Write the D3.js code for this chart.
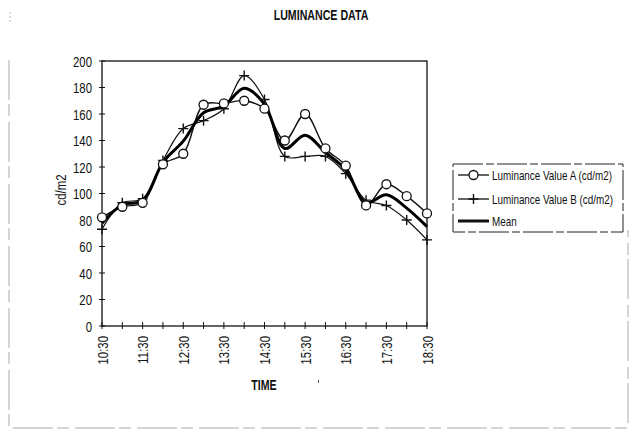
<!DOCTYPE html>
<html>
<head>
<meta charset="utf-8">
<script src="https://cdn.jsdelivr.net/npm/d3@7"></script>
<style>
  body { margin: 0; background: #fff; }
  text { font-family: "Liberation Sans", Arial, sans-serif; fill: #111; }
</style>
</head>
<body>
<div id="chart"></div>
<script>
// half-hourly readings 10:30 .. 18:30
var times = ["10:30","11:00","11:30","12:00","12:30","13:00","13:30","14:00","14:30",
             "15:00","15:30","16:00","16:30","17:00","17:30","18:00","18:30"];
var valueA = [82, 90, 93, 122, 130, 167, 168, 170, 164, 140, 160, 134, 121, 91, 107, 98, 85];
var valueB = [73, 93, 96, 125, 149, 155, 164, 189, 171, 128, 128, 128, 115, 95, 91, 80, 65];
var meanVal = [77.5, 91.5, 94.5, 123.5, 139.5, 161, 166, 179.5, 167.5, 134, 144, 131, 118, 93, 99, 89, 75];
var yTicks = [0, 20, 40, 60, 80, 100, 120, 140, 160, 180, 200];
var xLabels = ["10:30","11:30","12:30","13:30","14:30","15:30","16:30","17:30","18:30"];

var W = 633, H = 440;
var svg = d3.select("#chart").append("svg").attr("width", W).attr("height", H);
var SQ = 0.76; // horizontal squeeze for a condensed look

function label(g, tx, ty, rot, str, size, anchor, bold) {
  var t = g.append("text")
    .attr("transform", "translate(" + tx + "," + ty + ")" + (rot ? " rotate(" + rot + ")" : "") + " scale(" + SQ + ",1)")
    .attr("text-anchor", anchor || "start")
    .style("font-size", size + "px")
    .text(str);
  if (bold) t.style("font-weight", "bold");
  return t;
}

// faint outer chart frame (scanned look)
svg.append("path")
  .attr("d", "M9,60 V428 H628 V230")
  .attr("fill", "none").attr("stroke", "#aaa").attr("stroke-width", 1)
  .attr("stroke-dasharray", "40,4,12,6");
svg.append("line").attr("x1", 10).attr("x2", 10).attr("y1", 12).attr("y2", 24)
  .attr("stroke", "#bbb").attr("stroke-dasharray", "2,2");

var pL = 102, pR = 427, pT = 61, pB = 326;
var x = d3.scalePoint().domain(times).range([pL, pR]);
var y = d3.scaleLinear().domain([0, 200]).range([pB, pT]);

// title
label(svg, 321, 20, 0, "LUMINANCE DATA", 14, "middle", true);

// plot border
svg.append("rect").attr("x", pL).attr("y", pT).attr("width", pR - pL).attr("height", pB - pT)
  .attr("fill", "none").attr("stroke", "#111").attr("stroke-width", 1.3);

// y axis ticks + labels
var gy = svg.append("g");
gy.selectAll("line").data(yTicks).enter().append("line")
  .attr("x1", pL - 3).attr("x2", pL + 3)
  .attr("y1", function(d){ return y(d); }).attr("y2", function(d){ return y(d); })
  .attr("stroke", "#111").attr("stroke-width", 1);
yTicks.forEach(function(d){ label(gy, 92, y(d) + 5.5, 0, d, 15, "end"); });

// x axis ticks + labels
svg.append("g").selectAll("line").data(times).enter().append("line")
  .attr("x1", function(d){ return x(d); }).attr("x2", function(d){ return x(d); })
  .attr("y1", pB - 4).attr("y2", pB + 3)
  .attr("stroke", "#111").attr("stroke-width", 1);
var gx = svg.append("g");
xLabels.forEach(function(d){ label(gx, x(d) + 5.5, 336, -90, d, 15, "end"); });

// axis titles
label(svg, 264, 390, 0, "TIME", 14, "middle", true);
label(svg, 66, 190, -90, "cd/m2", 15, "middle");

// lines
var line = d3.line()
  .x(function(d, i){ return x(times[i]); })
  .y(function(d){ return y(d); })
  .curve(d3.curveCatmullRom.alpha(0.5));

svg.append("path").datum(valueB).attr("d", line)
  .attr("fill", "none").attr("stroke", "#111").attr("stroke-width", 1.2);
svg.append("path").datum(valueA).attr("d", line)
  .attr("fill", "none").attr("stroke", "#111").attr("stroke-width", 1.4);
svg.append("path").datum(meanVal).attr("d", line)
  .attr("fill", "none").attr("stroke", "#000").attr("stroke-width", 3);

// markers
function plus(g, cx, cy) {
  g.append("path").attr("d", "M" + (cx - 5) + "," + cy + "H" + (cx + 5) + "M" + cx + "," + (cy - 5) + "V" + (cy + 5))
    .attr("stroke", "#111").attr("stroke-width", 1.4).attr("fill", "none");
}
var gm = svg.append("g");
valueB.forEach(function(d, i){ plus(gm, x(times[i]), y(d)); });
gm.selectAll("circle").data(valueA).enter().append("circle")
  .attr("cx", function(d, i){ return x(times[i]); })
  .attr("cy", function(d){ return y(d); })
  .attr("r", 4.5).attr("fill", "#fff").attr("stroke", "#111").attr("stroke-width", 1.3);

// legend
var lg = svg.append("g");
lg.append("rect").attr("x", 453).attr("y", 164).attr("width", 170).attr("height", 68)
  .attr("fill", "#fff").attr("stroke", "#222").attr("stroke-width", 1).attr("stroke-dasharray", "30,3,8,3");
var items = [
  {name: "Luminance Value A (cd/m2)", kind: "A"},
  {name: "Luminance Value B (cd/m2)", kind: "B"},
  {name: "Mean", kind: "M"}
];
var legY = [175, 199, 221];
items.forEach(function(it, i){
  var yy = legY[i];
  lg.append("line").attr("x1", 458).attr("x2", 489).attr("y1", yy).attr("y2", yy)
    .attr("stroke", "#111").attr("stroke-width", it.kind == "M" ? 3 : 1.3);
  if (it.kind == "A") {
    lg.append("circle").attr("cx", 473.5).attr("cy", yy).attr("r", 4.5)
      .attr("fill", "#fff").attr("stroke", "#111").attr("stroke-width", 1.3);
  } else if (it.kind == "B") {
    plus(lg, 473.5, yy);
  }
  label(lg, 492, yy + 5, 0, it.name, 13, "start");
});

// small scan speck
svg.append("rect").attr("x", 318).attr("y", 380).attr("width", 1).attr("height", 3).attr("fill", "#555");
</script>
</body>
</html>
